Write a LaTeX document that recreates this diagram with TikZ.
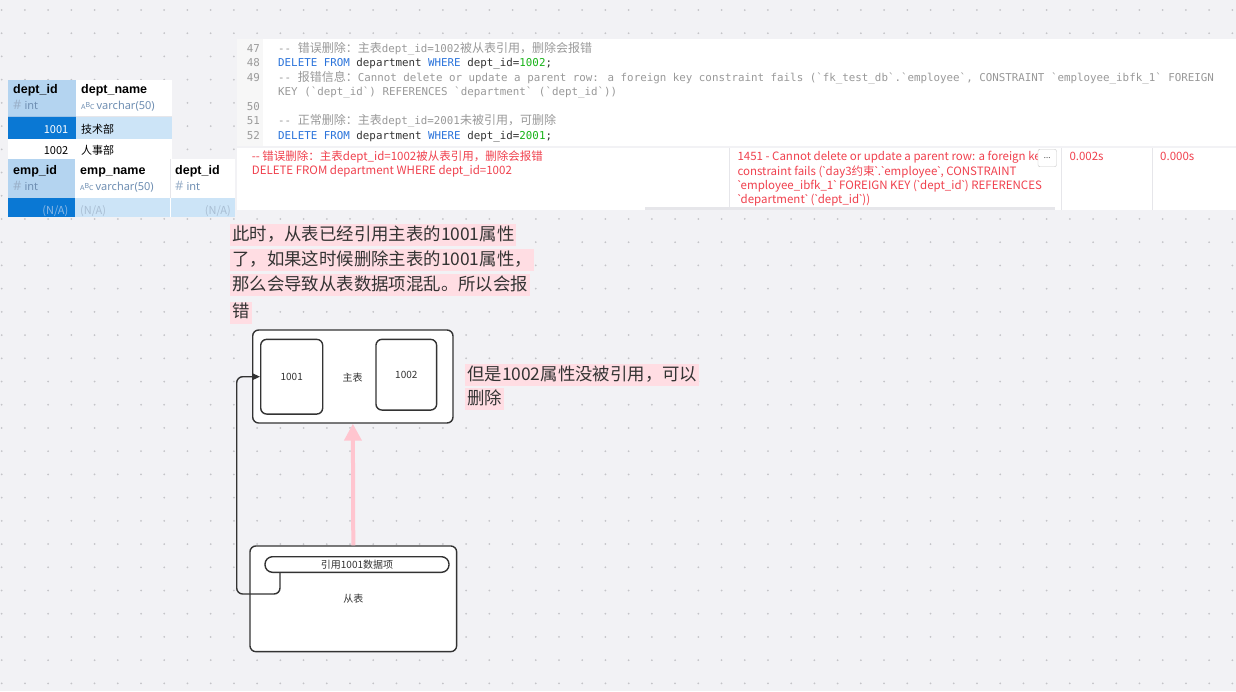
\documentclass[tikz,border=0pt]{standalone}
\usepackage{fontspec}
\setmainfont{Noto Sans}
\newfontfamily\cjk{Noto Sans CJK SC}
\newfontfamily\mono{DejaVu Sans Mono}
\newfontfamily\nsans{Noto Sans}
\newfontfamily\hdrfont{Liberation Sans}
\usetikzlibrary{arrows.meta}
\definecolor{bg}{HTML}{F2F2F5}
\definecolor{dotc}{HTML}{C4C4C8}
\definecolor{hdrblue}{HTML}{B4D4F0}
\definecolor{hdrline}{HTML}{9CC2E6}
\definecolor{selblue}{HTML}{0A78D4}
\definecolor{rowblue}{HTML}{CCE4F7}
\definecolor{typec}{HTML}{6E8EB2}
\definecolor{nac}{HTML}{A9BED3}
\definecolor{nadark}{HTML}{8CB9E6}
\definecolor{gutter}{HTML}{F7F7F7}
\definecolor{lnc}{HTML}{9A9A9A}
\definecolor{cmt}{HTML}{999999}
\definecolor{kwc}{HTML}{2A73DB}
\definecolor{numc}{HTML}{17B317}
\definecolor{codec}{HTML}{333333}
\definecolor{errc}{HTML}{F0414E}
\definecolor{sepc}{HTML}{E6E6EA}
\definecolor{ink}{HTML}{333333}
\definecolor{hlc}{HTML}{FFDDE3}
\definecolor{pinkarr}{HTML}{FFC5CF}
\newcommand\zh[1]{{\cjk\fontsize{12}{13}\selectfont #1}}
\newcommand\kw[1]{\textcolor{kwc}{#1}}
\newcommand\nm[1]{\textcolor{numc}{#1}}
\newcommand\bq{{\nsans`}}
\newcommand\abcicon{{\fontsize{7}{8}\selectfont A\raisebox{2pt}{B}C}}
\begin{document}
\begin{tikzpicture}[x=1pt,y=-1pt,
  every node/.style={inner sep=0pt},
  codeline/.style={anchor=base west, font=\mono\fontsize{10.83}{13}\selectfont, text=codec},
  lnum/.style={anchor=base east, font=\mono\fontsize{10.83}{13}\selectfont, text=lnc},
  res/.style={anchor=base west, font=\cjk\fontsize{11.5}{13}\selectfont, text=errc},
  cell/.style={anchor=base west, font=\cjk\fontsize{11}{13}\selectfont, text=black},
  hdr/.style={anchor=base west, font=\hdrfont\bfseries\fontsize{12.5}{14}\selectfont, text=black},
  typ/.style={anchor=base west, font=\nsans\fontsize{11}{13}\selectfont, text=typec},
  note/.style={anchor=base west, fill=hlc, inner xsep=2pt, inner ysep=0pt, text height=16pt, text depth=6pt, font=\cjk\fontsize{17.4}{20}\selectfont, text=ink},
  bigbox/.style={draw=ink, line width=1.4pt, fill=white, rounded corners=6pt},
  keybox/.style={draw=ink, line width=1.4pt, fill=white, rounded corners=6pt, font=\cjk\fontsize{10}{12}\selectfont, text=ink},
  lbl/.style={font=\cjk\fontsize{10}{12}\selectfont, text=ink},
  conn/.style={draw=ink, line width=1.4pt, rounded corners=6pt, -{Triangle[length=8pt,width=7pt]}},
  pinkarrow/.style={draw=pinkarr, line width=4pt, -{Triangle[length=17pt,width=17pt]}}
]
\useasboundingbox (0,0) rectangle (1236,691);
\fill[bg] (0,0) rectangle (1236,691);
\foreach \i in {0,...,53}{\foreach \j in {0,...,29}{\fill[dotc] (1.7+23.22*\i,10+23.22*\j) circle (1);}}

% ---------- grid table 1 ----------
\fill[hdrblue] (8,80) rectangle (76,116.7);
\fill[white] (76,80) rectangle (171.5,116.7);
\draw[hdrline, line width=0.8pt] (8,116.3) -- (76,116.3);
\draw[sepc, line width=0.8pt] (76,116.3) -- (171.5,116.3);
\fill[selblue] (8,116.7) rectangle (76,139);
\fill[rowblue] (76,116.7) rectangle (171.5,139);
\fill[white] (8,139) rectangle (171.5,159.3);
\node[hdr] (h1) at (13,93.5) {dept\_id};
\node[typ] (t1) at (13,109.5) {\textcolor{typec!70}{\fontsize{13}{13}\selectfont\#}\hspace{3pt}int};
\node[hdr] (h2) at (81,93.5) {dept\_name};
\node[typ] (t2) at (81,109.5) {\abcicon\hspace{2pt}varchar(50)};
\node[cell, anchor=base east, text=white] (v1) at (68.5,133.5) {1001};
\node[cell] (v2) at (81,133.5) {技术部};
\node[cell, anchor=base east] (v3) at (68.5,154) {1002};
\node[cell] (v4) at (81,154) {人事部};

% ---------- grid table 2 ----------
\fill[hdrblue] (8,159.3) rectangle (74.5,198.3);
\fill[white] (74.5,159.3) rectangle (235,198.3);
\draw[sepc, line width=0.8pt] (170,159.3) -- (170,198.3);
\draw[hdrline, line width=0.8pt] (8,197.9) -- (74.5,197.9);
\draw[sepc, line width=0.8pt] (74.5,197.9) -- (235,197.9);
\fill[selblue] (8,198.3) rectangle (74.5,217);
\fill[rowblue] (74.5,198.3) rectangle (235,217);
\draw[white, line width=0.8pt] (170,198.3) -- (170,217);
\node[hdr] (h3) at (13,174.5) {emp\_id};
\node[typ] (t3) at (13,190.5) {\textcolor{typec!70}{\fontsize{13}{13}\selectfont\#}\hspace{3pt}int};
\node[hdr] (h4) at (80,174.5) {emp\_name};
\node[typ] (t4) at (80,190.5) {\abcicon\hspace{2pt}varchar(50)};
\node[hdr] (h5) at (175,174.5) {dept\_id};
\node[typ] (t5) at (175,190.5) {\textcolor{typec!70}{\fontsize{13}{13}\selectfont\#}\hspace{3pt}int};
\node[cell, anchor=base east, text=nadark] (n1) at (68.5,214) {(N/A)};
\node[cell, text=nac] (n2) at (80,214) {(N/A)};
\node[cell, anchor=base east, text=nac] (n3) at (231,214) {(N/A)};

% ---------- code panel ----------
\fill[white] (236.5,39) rectangle (1236,146);
\fill[gutter] (236.5,39) rectangle (263,146);
\node[lnum] (l47) at (260,52.3) {47};
\node[lnum] (l48) at (260,66.7) {48};
\node[lnum] (l49) at (260,81.2) {49};
\node[lnum] (l50) at (260,110) {50};
\node[lnum] (l51) at (260,124.5) {51};
\node[lnum] (l52) at (260,139) {52};
\node[codeline] (c47) at (278,52.3) {\textcolor{cmt}{-{}- \zh{错误删除：主表}dept\_id=1002\zh{被从表引用，删除会报错}}};
\node[codeline] (c48) at (278,66.7) {\kw{DELETE} \kw{FROM} department \kw{WHERE} dept\_id=\nm{1002};};
\node[codeline] (c49) at (278,81.2) {\textcolor{cmt}{-{}- \zh{报错信息：}Cannot delete or update a parent row: a foreign key constraint fails (`fk\_test\_db`.`employee`, CONSTRAINT `employee\_ibfk\_1` FOREIGN}};
\node[codeline] (c49b) at (278,95.6) {\textcolor{cmt}{KEY (`dept\_id`) REFERENCES `department` (`dept\_id`))}};
\node[codeline] (c51) at (278,124.5) {\textcolor{cmt}{-{}- \zh{正常删除：主表}dept\_id=2001\zh{未被引用，可删除}}};
\node[codeline] (c52) at (278,139) {\kw{DELETE} \kw{FROM} department \kw{WHERE} dept\_id=\nm{2001};};

% ---------- result panel ----------
\fill[white] (236.5,147.5) rectangle (1236,210);
\draw[sepc, line width=0.8pt] (729.5,147.5) -- (729.5,210);
\draw[sepc, line width=0.8pt] (1061.7,147.5) -- (1061.7,210);
\draw[sepc, line width=0.8pt] (1152.7,147.5) -- (1152.7,210);
\fill[sepc] (645,207.3) rectangle (1055,210.3);
\node[res] (r1) at (251.7,160.7) {-{}- 错误删除：主表dept\_id=1002被从表引用，删除会报错};
\node[res] (r2) at (251.7,174.5) {DELETE FROM department WHERE dept\_id=1002};
\begin{scope}
\clip (735,148) rectangle (1037.5,166);
\node[res] (e1) at (737.3,160.7) {1451 - Cannot delete or update a parent row: a foreign ke};
\end{scope}
\node[res] (e2) at (737.3,175) {constraint fails (\bq day3约束\bq.\bq employee\bq, CONSTRAINT};
\node[res] (e3) at (737.3,189.3) {\bq employee\_ibfk\_1\bq\ FOREIGN KEY (\bq dept\_id\bq) REFERENCES};
\node[res] (e4) at (737.3,203.6) {\bq department\bq\ (\bq dept\_id\bq))};
\node[draw=black!22, fill=white, rounded corners=2pt, minimum width=18.5pt, minimum height=17.5pt, font=\nsans\bfseries\fontsize{8}{9}\selectfont, text=ink] (more) at (1047.2,158) {...};
\node[res] (tm1) at (1069.3,160.7) {0.002s};
\node[res] (tm2) at (1160,160.7) {0.000s};

% ---------- annotations ----------
\node[note] (a1) at (230,240) {此时，从表已经引用主表的1001属性};
\node[note] (a2) at (230,265) {了，如果这时候删除主表的1001属性，};
\node[note] (a3) at (230,290.3) {那么会导致从表数据项混乱。所以会报};
\node[note] (a4) at (230,317.5) {错};
\node[note] (a5) at (465,380) {但是1002属性没被引用，可以};
\node[note] (a6) at (465,404) {删除};

% ---------- diagram ----------
\node[bigbox, minimum width=200.3pt, minimum height=93pt] (main) at (352.85,376.5) {};
\node[lbl] (mainlbl) at (352.7,377.3) {主表};
\node[keybox, minimum width=62pt, minimum height=74.7pt] (k1001) at (291.7,376.7) {1001};
\node[keybox, minimum width=60.7pt, minimum height=70.7pt] (k1002) at (406.3,374.7) {1002};

\node[bigbox, minimum width=206.7pt, minimum height=105.7pt, font=\cjk\fontsize{10}{12}\selectfont, text=ink] (sub) at (353.3,598.8) {从表};
\node[draw=ink, line width=1.4pt, fill=white, rounded corners=7.5pt, minimum width=184pt, minimum height=15.6pt, font=\cjk\fontsize{10}{12}\selectfont, text=ink] (ref) at (357,564.5) {引用1001数据项};

\coordinate (bend) at (236.7,594);
\draw[conn] ([xshift=15.7pt]ref.south west) |- (bend) |- (k1001.west);
\draw[pinkarrow] (sub.north) -- (main.south);
\end{tikzpicture}
\end{document}
